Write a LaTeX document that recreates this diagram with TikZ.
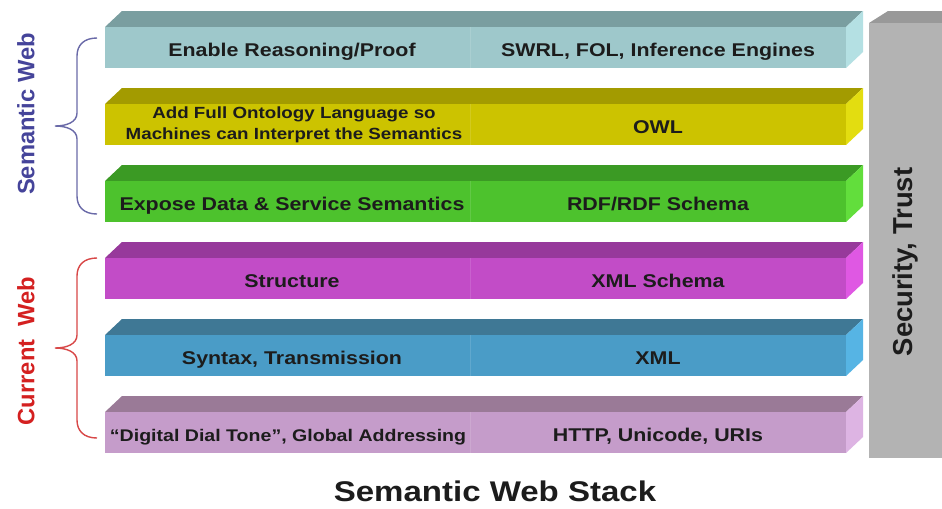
\documentclass[tikz,border=0pt]{standalone}
\usepackage{fontspec}
\setmainfont{Liberation Sans}[FakeStretch=1.16]
\newfontfamily\sidefont{Liberation Sans}
\usepackage{xcolor}
\definecolor{Ink}{HTML}{1C1C1C}
\definecolor{ProofFront}{HTML}{9EC8CB}
\definecolor{ProofTop}{HTML}{7A9EA0}
\definecolor{ProofSide}{HTML}{B4E0E3}
\definecolor{OntoFront}{HTML}{CCC300}
\definecolor{OntoTop}{HTML}{A39B00}
\definecolor{OntoSide}{HTML}{E3DD10}
\definecolor{RdfFront}{HTML}{4DC22D}
\definecolor{RdfTop}{HTML}{3B9A24}
\definecolor{RdfSide}{HTML}{62DE3C}
\definecolor{XsdFront}{HTML}{C24CC7}
\definecolor{XsdTop}{HTML}{97399B}
\definecolor{XsdSide}{HTML}{DF58E3}
\definecolor{XmlFront}{HTML}{4A9CC7}
\definecolor{XmlTop}{HTML}{3F7895}
\definecolor{XmlSide}{HTML}{56B4E4}
\definecolor{UriFront}{HTML}{C59CCA}
\definecolor{UriTop}{HTML}{9A7A97}
\definecolor{UriSide}{HTML}{DDB4E3}
\definecolor{TrustFront}{HTML}{B3B3B3}
\definecolor{TrustTop}{HTML}{999999}
\definecolor{SemInk}{HTML}{45449A}
\definecolor{SemBrace}{HTML}{6A6AA8}
\definecolor{CurInk}{HTML}{D42020}
\definecolor{CurBrace}{HTML}{D84848}

\begin{document}
\begin{tikzpicture}[x=0.02cm,y=-0.02cm,every node/.style={text=Ink,inner sep=0pt},layertext/.style={font=\fontsize{10.5}{12.6}\selectfont\bfseries,anchor=base},sidelabel/.style={font=\sidefont\fontsize{13.5}{16}\selectfont\bfseries,rotate=90},bracket/.style={line width=0.8pt}]
\useasboundingbox (0,0) rectangle (942,508);
\fill[white] (0,0) rectangle (942,508);

% stacked slabs
\foreach \y/\lay in {27/Proof,104/Onto,181/Rdf,258/Xsd,335/Xml,412/Uri}{
  \fill[\lay Top] (105,\y) -- (122,\y-16) -- (863,\y-16) -- (846,\y) -- cycle;
  \fill[\lay Side] (846,\y) -- (863,\y-16) -- (863,\y+25) -- (846,\y+41) -- cycle;
  \fill[\lay Front] (105,\y) rectangle (846,\y+41);
  \draw[\lay Front!88!white,line width=0.5pt] (470,\y) -- (470,\y+41);
}

\node[layertext] (proof-l) at (292,56) {Enable Reasoning/Proof};
\node[layertext] (proof-r) at (658,56) {SWRL, FOL, Inference Engines};
\node[font=\fontsize{9.2}{11.9}\selectfont\bfseries,align=center] (onto-l) at (294,124.7) {Add Full Ontology Language so\\Machines can Interpret the Semantics};
\node[layertext] (onto-r) at (658,133) {OWL};
\node[layertext] (rdf-l) at (292,210) {Expose Data \& Service Semantics};
\node[layertext] (rdf-r) at (658,210) {RDF/RDF Schema};
\node[layertext] (xsd-l) at (292,287) {Structure};
\node[layertext] (xsd-r) at (658,287) {XML Schema};
\node[layertext] (xml-l) at (292,364) {Syntax, Transmission};
\node[layertext] (xml-r) at (658,364) {XML};
\node[layertext,font=\fontsize{9.6}{12}\selectfont\bfseries] (uri-l) at (288,441) {“Digital Dial Tone”, Global Addressing};
\node[layertext] (uri-r) at (658,441) {HTTP, Unicode, URIs};

% side bar
\fill[TrustTop] (869,23) -- (888,11) -- (942,11) -- (942,23) -- cycle;
\fill[TrustFront] (869,23) rectangle (942,458);
\node[sidelabel,font=\sidefont\fontsize{15.6}{18}\selectfont\bfseries] (trust) at (905,262) {Security, Trust};

% braces
\draw[bracket,SemBrace] (97,38) .. controls (84,38) and (77,45) .. (77,56) -- (77,113) .. controls (77,122) and (67,126) .. (55,126) .. controls (67,126) and (77,130) .. (77,139) -- (77,196) .. controls (77,207) and (84,214) .. (97,214);
\node[sidelabel,text=SemInk] (semweb) at (26,114) {Semantic Web};
\draw[bracket,CurBrace] (97,258) .. controls (84,258) and (77,265) .. (77,276) -- (77,335) .. controls (77,344) and (67,348) .. (55,348) .. controls (67,348) and (77,352) .. (77,361) -- (77,420) .. controls (77,431) and (84,438) .. (97,438);
\node[sidelabel,text=CurInk] (curweb) at (26,351) {Current\ \ Web};

\node[font=\fontsize{16.2}{19}\selectfont\bfseries] (title) at (495,491) {Semantic Web Stack};
\end{tikzpicture}
\end{document}
